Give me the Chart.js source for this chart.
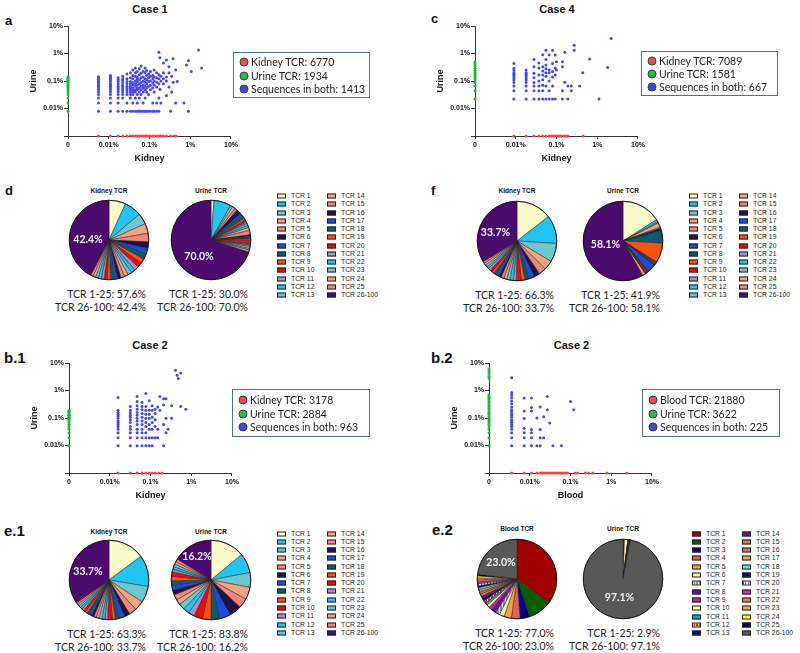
<!DOCTYPE html>
<html>
<head>
<meta charset="utf-8">
<script src="https://cdn.jsdelivr.net/npm/chart.js@4.4.1/dist/chart.umd.min.js"></script>
<style>
  body { margin: 0; background: #fff; }
  #fig { position: relative; width: 800px; height: 653px; overflow: hidden; font-family: 'Liberation Sans', Arial, sans-serif; color: #111; }
  #fig canvas { position: absolute; }
  .t { position: absolute; white-space: nowrap; line-height: 1; }
  .lbox { position: absolute; border: 1.5px solid #50709e; box-sizing: border-box; }
  .dot { position: absolute; width: 9px; height: 9px; border-radius: 50%; box-sizing: border-box; border: 1px solid #3a3a55; transform: translate(-50%, -50%); }
  .sw { position: absolute; width: 9px; height: 5px; box-sizing: border-box; border: 1px solid #222; transform: translateY(-50%); }
</style>
</head>
<body>
<div id="fig"></div>
<script>
const BASE = "'Liberation Sans', Arial, sans-serif";
const ZERO = 0.001;                 // position used for the "0" on the log axes
const decadeTicks = [0.01, 0.1, 1, 10];

// ---- scatter data: [kidney/blood %, [urine % ...]] columns, plus single-compartment clones
const case1Counts = { kidney: 6770, urine: 1934, both: 1413 };
const case1Both = [
  [0.0056, [0.008, 0.016, 0.024, 0.032, 0.04, 0.048, 0.056, 0.064, 0.072, 0.08, 0.088, 0.096, 0.112, 0.128, 0.144]],
  [0.011, [0.008, 0.016, 0.024, 0.032, 0.04, 0.048, 0.056, 0.064, 0.072, 0.08, 0.096, 0.112, 0.128, 0.144, 0.16]],
  [0.017, [0.008, 0.016, 0.024, 0.032, 0.04, 0.048, 0.056, 0.064, 0.08, 0.096, 0.112, 0.13]],
  [0.022, [0.008, 0.024, 0.032, 0.04, 0.048, 0.056, 0.064, 0.072, 0.088, 0.104, 0.12, 0.15]],
  [0.028, [0.008, 0.016, 0.032, 0.04, 0.048, 0.056, 0.064, 0.08, 0.096, 0.12, 0.18]],
  [0.034, [0.008, 0.024, 0.032, 0.04, 0.048, 0.056, 0.064, 0.08, 0.096, 0.13, 0.2]],
  [0.039, [0.008, 0.016, 0.032, 0.04, 0.048, 0.056, 0.072, 0.088, 0.12, 0.16, 0.25]],
  [0.045, [0.008, 0.024, 0.04, 0.048, 0.064, 0.08, 0.1, 0.15, 0.2, 0.3]],
  [0.05, [0.008, 0.016, 0.032, 0.048, 0.056, 0.072, 0.096, 0.12, 0.14, 0.22]],
  [0.056, [0.008, 0.024, 0.04, 0.056, 0.08, 0.11, 0.17, 0.28]],
  [0.062, [0.008, 0.032, 0.048, 0.064, 0.088, 0.13, 0.19, 0.35]],
  [0.07, [0.008, 0.016, 0.04, 0.056, 0.072, 0.1, 0.14, 0.22]],
  [0.078, [0.008, 0.024, 0.048, 0.064, 0.09, 0.12, 0.2, 0.3]],
  [0.085, [0.008, 0.04, 0.056, 0.08, 0.11, 0.16, 0.24]],
  [0.095, [0.008, 0.032, 0.064, 0.096, 0.13, 0.18]],
  [0.105, [0.008, 0.048, 0.07, 0.1, 0.15, 0.22]],
  [0.12, [0.008, 0.016, 0.056, 0.085, 0.12, 0.16]],
  [0.13, [0.008, 0.04, 0.07, 0.1, 0.14, 0.25]],
  [0.15, [0.008, 0.016, 0.06, 0.09, 0.13, 0.2]],
  [0.17, [0.008, 0.024, 0.08, 0.12, 0.17, 1.1]],
  [0.18, [0.05, 0.7]],
  [0.19, [0.016, 0.1, 0.15]],
  [0.22, [0.08, 0.12, 0.2, 0.45]],
  [0.26, [0.03, 0.1, 0.14, 0.58]],
  [0.3, [0.06, 0.2, 0.33]],
  [0.33, [0.008]],
  [0.35, [0.04, 0.15]],
  [0.38, [0.09, 0.64]],
  [0.44, [0.016, 0.25]],
  [0.48, [0.095]],
  [0.7, [0.016]],
  [0.81, [0.38]],
  [0.9, [0.008, 0.55]],
  [1.06, [0.22]],
  [1.6, [1.35]],
  [1.9, [0.3]]
];
const case1KidneyOnly = [0.0056, 0.011, 0.017, 0.022, 0.028, 0.034, 0.039, 0.045, 0.05, 0.056, 0.062, 0.07, 0.078, 0.085, 0.095, 0.105, 0.12, 0.13, 0.15, 0.17, 0.19, 0.22, 0.26, 0.33, 0.4, 0.45];
const case1UrineOnly = [0.008, 0.016, 0.024, 0.032, 0.04, 0.048, 0.056, 0.064, 0.072, 0.08, 0.088, 0.096, 0.104, 0.112, 0.12, 0.128, 0.144];

const case4Counts = { kidney: 7089, urine: 1581, both: 667 };
const case4Both = [
  [0.009, [0.022, 0.044, 0.066, 0.088, 0.11, 0.132, 0.154, 0.176, 0.2, 0.24, 0.29, 0.43]],
  [0.018, [0.022, 0.044, 0.066, 0.088, 0.11, 0.132, 0.154, 0.176, 0.2, 0.25]],
  [0.028, [0.022, 0.044, 0.066, 0.088, 0.13, 0.19, 0.33, 0.6]],
  [0.037, [0.022, 0.044, 0.066, 0.1, 0.165, 0.3, 0.45]],
  [0.046, [0.022, 0.044, 0.07, 0.11, 0.165, 0.23, 0.33, 0.9]],
  [0.055, [0.022, 0.066, 0.15, 0.2, 0.28, 0.38, 0.6, 1.3]],
  [0.066, [0.022, 0.044, 0.1, 0.2, 0.25, 0.88]],
  [0.08, [0.022, 0.066, 0.14, 0.22, 0.43, 1.3]],
  [0.093, [0.022, 0.165, 0.3, 0.88]],
  [0.1, [0.25, 0.5]],
  [0.14, [0.022, 0.044, 0.33, 0.5]],
  [0.16, [0.09, 1.1]],
  [0.19, [0.022, 0.066]],
  [0.23, [0.044, 0.066]],
  [0.27, [1.3, 2.0]],
  [0.37, [0.066]],
  [0.44, [0.2]],
  [0.65, [0.63]],
  [1.1, [0.022]],
  [1.8, [0.31]],
  [2.2, [3.5]]
];
const case4KidneyOnly = [0.009, 0.018, 0.028, 0.037, 0.046, 0.055, 0.066, 0.075, 0.08, 0.09, 0.1, 0.11, 0.12, 0.13, 0.15, 0.17, 0.19, 0.45];
const case4UrineOnly = [0.022, 0.044, 0.066, 0.088, 0.11, 0.132, 0.154, 0.176, 0.2, 0.24, 0.29, 0.35, 0.42, 0.5];

const case2Counts = { kidney: 3178, urine: 2884, both: 963 };
const case2Both = [
  [0.016, [0.0097, 0.019, 0.029, 0.039, 0.049, 0.058, 0.068, 0.078, 0.097, 0.117, 0.136, 0.16, 0.19, 0.56]],
  [0.032, [0.0097, 0.019, 0.029, 0.039, 0.049, 0.068, 0.087, 0.107, 0.126, 0.155, 0.19, 0.26]],
  [0.047, [0.0097, 0.019, 0.029, 0.039, 0.058, 0.078, 0.097, 0.126, 0.16, 0.21, 0.28, 0.4, 0.6]],
  [0.062, [0.0097, 0.019, 0.029, 0.039, 0.058, 0.078, 0.107, 0.145, 0.2, 0.26, 0.37]],
  [0.077, [0.0097, 0.019, 0.029, 0.049, 0.068, 0.097, 0.136, 0.19, 0.26, 0.78]],
  [0.093, [0.0097, 0.019, 0.039, 0.058, 0.097, 0.136, 0.19, 0.42]],
  [0.11, [0.0097, 0.019, 0.039, 0.068, 0.107, 0.19, 0.28]],
  [0.13, [0.019, 0.049, 0.087, 0.145, 0.21]],
  [0.15, [0.019, 0.039, 0.25]],
  [0.17, [0.19, 0.6]],
  [0.21, [0.0097, 0.058, 0.3, 0.5]],
  [0.24, [0.029, 0.097, 0.5]],
  [0.27, [0.039]],
  [0.33, [0.097, 0.28]],
  [0.41, [5.4]],
  [0.45, [3.6]],
  [0.48, [2.75]],
  [0.55, [0.26, 4.3]],
  [0.74, [0.21]]
];
const case2KidneyOnly = [0.016, 0.032, 0.047, 0.062, 0.077, 0.093, 0.11, 0.13, 0.16, 0.19];
const case2UrineOnly = [0.0097, 0.019, 0.029, 0.039, 0.049, 0.058, 0.068, 0.078, 0.087, 0.097, 0.107, 0.117, 0.126, 0.136, 0.155, 0.175, 0.19];

const case2BloodCounts = { blood: 21880, urine: 3622, both: 225 };
const case2BloodBoth = [
  [0.0036, [0.0097, 0.019, 0.029, 0.039, 0.049, 0.058, 0.068, 0.078, 0.087, 0.107, 0.126, 0.145, 0.175, 0.2, 0.25, 0.33, 0.42, 0.56, 0.7, 0.85, 2.9]],
  [0.0073, [0.0097, 0.019, 0.029, 0.042, 0.095, 0.18, 0.53]],
  [0.011, [0.0097, 0.019, 0.029, 0.038, 0.18, 0.24, 0.53]],
  [0.015, [0.0097, 0.1]],
  [0.018, [0.0097, 0.019, 0.038, 0.25]],
  [0.022, [0.019, 0.11]],
  [0.027, [0.2, 0.6]],
  [0.031, [0.066]],
  [0.037, [0.0097]],
  [0.06, [0.0097]],
  [0.1, [0.4]],
  [0.12, [0.2]]
];
const case2BloodOnly = [0.0036, 0.0073, 0.011, 0.015, 0.018, 0.02, 0.022, 0.025, 0.027, 0.03, 0.033, 0.037, 0.04, 0.044, 0.05, 0.055, 0.06, 0.066, 0.075, 0.085, 0.13, 0.15, 0.23, 0.28, 0.35, 0.78, 2.4];
const case2BloodUrineOnly = [0.0097, 0.019, 0.029, 0.039, 0.049, 0.058, 0.068, 0.078, 0.087, 0.097, 0.11, 0.13, 0.15, 0.17, 0.2, 0.23, 0.27, 0.3, 0.35, 0.4, 0.45, 0.5, 0.55, 0.6, 0.7, 2.8, 3.3, 4.2, 5.2, 6.0];

// ---- pie data: share (%) of TCR 1 ... TCR 25 and TCR 26-100
const tcrLabels = ['TCR 1', 'TCR 2', 'TCR 3', 'TCR 4', 'TCR 5', 'TCR 6', 'TCR 7', 'TCR 8', 'TCR 9', 'TCR 10', 'TCR 11', 'TCR 12', 'TCR 13',
  'TCR 14', 'TCR 15', 'TCR 16', 'TCR 17', 'TCR 18', 'TCR 19', 'TCR 20', 'TCR 21', 'TCR 22', 'TCR 23', 'TCR 24', 'TCR 25', 'TCR 26-100'];
const case1KidneyPie = [6.8, 7.0, 4.5, 4.0, 3.5, 2.6, 2.4, 2.2, 2.0, 1.9, 1.8, 1.7, 1.6, 1.6, 1.5, 1.5, 1.4, 1.4, 1.3, 1.3, 1.2, 1.2, 1.1, 1.1, 1.0, 42.4];
const case1UrinePie = [1.2, 7.0, 1.0, 1.2, 1.0, 2.0, 0.8, 1.6, 0.8, 0.9, 0.6, 1.0, 0.8, 1.2, 1.8, 0.6, 0.5, 0.5, 0.6, 1.6, 0.4, 0.6, 0.8, 0.6, 0.9, 70.0];
const case4KidneyPie = [14.5, 11.5, 7.6, 3.8, 3.0, 2.4, 2.4, 1.6, 1.5, 2.0, 1.2, 1.4, 1.3, 1.2, 1.2, 1.1, 1.1, 1.0, 1.0, 1.0, 1.0, 0.9, 0.9, 0.9, 0.8, 33.7];
const case4UrinePie = [16.0, 1.0, 0.5, 1.8, 0.5, 0.8, 0.3, 5.0, 8.0, 0.4, 0.2, 0.2, 0.2, 0.2, 0.2, 0.2, 3.4, 0.2, 0.2, 0.9, 0.1, 0.1, 0.1, 1.2, 0.2, 58.1];
const case2KidneyPie = [14.4, 12.4, 6.5, 3.8, 3.0, 2.2, 2.2, 1.4, 1.3, 1.8, 1.1, 1.2, 1.2, 1.1, 1.0, 1.0, 1.0, 0.9, 0.9, 0.9, 0.8, 0.8, 0.8, 0.8, 0.8, 33.7];
const case2UrinePie = [14.0, 8.0, 6.0, 5.0, 4.0, 5.0, 4.5, 3.5, 3.5, 3.5, 2.5, 2.5, 2.5, 2.2, 2.2, 2.0, 2.0, 1.8, 1.8, 1.8, 1.1, 1.1, 1.1, 1.1, 1.1, 16.2];
const case2BloodPie = [35.3, 9.5, 4.0, 3.5, 3.0, 2.0, 1.8, 1.8, 1.5, 1.2, 1.1, 1.1, 1.0, 1.0, 1.0, 0.9, 0.9, 0.9, 0.8, 0.8, 0.8, 0.8, 0.8, 0.8, 0.7, 23.0];
const case2BloodUrinePie = [0.2, 0.1, 0.1, 0.1, 0.1, 1.4, 0.05, 0.05, 0.4, 0.1, 0.02, 0.02, 0.02, 0.02, 0.02, 0.02, 0.02, 0.02, 0.02, 0.02, 0.02, 0.02, 0.02, 0.02, 0.02, 97.1];

const kidneyPalette = ['#f8fac8', '#22c4f2', '#6cc8d0', '#f5a482', '#f4867e', '#1e1246', '#1a4ce0', '#0b5c6a', '#ff5010', '#f00a0a', '#a88ed8', '#22c4f2', '#6cc8d0',
  '#f5a482', '#f4867e', '#1e1246', '#1a4ce0', '#0b5c6a', '#ff5010', '#f00a0a', '#a88ed8', '#22c4f2', '#6cc8d0', '#f5a482', '#f4867e', '#4b0a6e'];
const bloodPalette = ['#a00000', '#006000', '#000080', '#e8605a', '#f5a040', '#f6f2a6', '#8c8ca8', '#6a10a8', '#c8209e', '#ffffa8', '#12a4b4', '#e02020', '#0a0a7a',
  '#7010b0', '#c48848', '#e86660', '#f5a436', '#40e8e8', '#10107a', '#ffffff', '#d030a8', '#f07070', '#f5a440', '#ffff10', '#000060', '#585858'];
const bloodStripes = { 6: '#d8d8e8', 11: '#f0e040', 19: '#8030a0' };

const fig = document.getElementById('fig');
Chart.defaults.font.family = BASE;

function text(str, x, y, css, align) {
  const d = document.createElement('div');
  d.className = 't';
  d.textContent = str;
  const tx = align === 'right' ? '-100%' : align === 'center' ? '-50%' : '0';
  d.style.cssText = `left:${x}px;top:${y}px;transform:translate(${tx},-50%);` + (css || '');
  fig.appendChild(d);
}

function canvasAt(x, y, w, h) {
  const c = document.createElement('canvas');
  c.width = w; c.height = h;
  c.style.left = x + 'px'; c.style.top = y + 'px';
  fig.appendChild(c);
  return c;
}

function scatterPanel(x0, y0, cols, redX, greenY, xTitle) {
  const both = [];
  cols.forEach(([x, ys]) => ys.forEach(y => both.push({ x, y })));
  const tickFont = { weight: 'bold', size: 7 };
  const titleFont = { weight: 'bold', size: 9 };
  const axis = (label) => ({
    type: 'logarithmic', min: ZERO, max: 10,
    afterBuildTicks: s => { s.ticks = [ZERO, ...decadeTicks].map(v => ({ value: v })); },
    ticks: { autoSkip: false, maxRotation: 0, color: '#111', font: tickFont, callback: v => v === ZERO ? label : v + '%' },
    grid: { drawOnChartArea: false, color: '#333', tickLength: 4 },
    border: { color: '#333', width: 1 }
  });
  const x = axis('0'), y = axis('');
  x.afterFit = s => { s.height = 28; };
  x.ticks.padding = 2;
  x.grid.tickLength = 3;
  x.title = { display: true, text: xTitle, color: '#111', font: titleFont, padding: 0 };
  y.afterFit = s => { s.width = 68; };
  y.ticks.padding = 1;
  y.title = { display: true, text: 'Urine', color: '#111', font: titleFont, padding: { top: 28, bottom: 0 } };

  new Chart(canvasAt(x0, y0, 240, 144), {
    type: 'scatter',
    data: {
      datasets: [
        { data: redX.map(v => ({ x: v, y: ZERO })), backgroundColor: '#f24444' },
        { data: greenY.map(v => ({ x: ZERO, y: v })), backgroundColor: '#1db53e' },
        { data: both, backgroundColor: '#4646f2' }
      ]
    },
    options: {
      responsive: false, animation: false, events: [],
      layout: { padding: { top: 6, right: 8, bottom: 0, left: 0 } },
      elements: { point: { radius: 1.5, borderWidth: 0 } },
      datasets: { scatter: { clip: false } },
      plugins: { legend: { display: false }, tooltip: { enabled: false } },
      scales: { x, y }
    }
  });
}

function scatterLegend(x, y, w, h, entries) {
  const box = document.createElement('div');
  box.className = 'lbox';
  box.style.cssText = `left:${x}px;top:${y}px;width:${w}px;height:${h}px`;
  fig.appendChild(box);
  const cy = y + h / 2 + 0.5;
  entries.forEach(([color, str], i) => {
    const ry = cy + (i - 1) * 13.2;
    const d = document.createElement('div');
    d.className = 'dot';
    d.style.cssText = `left:${x + 10.5}px;top:${ry}px;background:${color}`;
    fig.appendChild(d);
    text(str, x + 18, ry, "font-family:Lato;font-size:10.5px;color:#222");
  });
}

function stripes(bg, fg) {
  const c = document.createElement('canvas');
  c.width = 3; c.height = 3;
  const g = c.getContext('2d');
  g.fillStyle = bg; g.fillRect(0, 0, 3, 3);
  g.fillStyle = fg; g.fillRect(0, 0, 1, 3);
  return g.createPattern(c, 'repeat');
}

function piePanel(cx, cy, values, colors, dx, dy, title, titleY) {
  const rest = values[values.length - 1];
  new Chart(canvasAt(cx - 42, cy - 42, 84, 84), {
    type: 'pie',
    data: { labels: tcrLabels, datasets: [{ data: values, backgroundColor: colors, borderColor: '#222', borderWidth: 0.5 }] },
    options: {
      responsive: false, animation: false, events: [],
      layout: { padding: 2 },
      plugins: { legend: { display: false }, tooltip: { enabled: false } }
    },
    plugins: [{
      id: 'restLabel',
      afterDatasetsDraw(chart) {
        const meta = chart.getDatasetMeta(0);
        const arc = meta.data[values.length - 1];
        const ctx = chart.ctx;
        ctx.save();
        // outer rim, slightly heavier than the slice separators
        ctx.beginPath();
        ctx.arc(arc.x, arc.y, arc.outerRadius, 0, Math.PI * 2);
        ctx.strokeStyle = '#111';
        ctx.lineWidth = 0.9;
        ctx.stroke();
        ctx.font = 'bold 10.5px Lato';
        ctx.fillStyle = '#f2eef6';
        ctx.textAlign = 'center';
        ctx.textBaseline = 'middle';
        ctx.fillText(rest.toFixed(1) + '%', arc.x + dx, arc.y + dy);
        ctx.restore();
      }
    }]
  });
  const top = values.slice(0, 25).reduce((a, b) => a + b, 0);
  text(title, cx, titleY, 'font-weight:bold;font-size:6.5px', 'center');
  const sumCss = 'font-family:Lato;font-size:10.5px;color:#222';
  text('TCR 1-25: ' + top.toFixed(1) + '%', cx + 37, cy + 54, sumCss, 'right');
  text('TCR 26-100: ' + rest.toFixed(1) + '%', cx + 37, cy + 67, sumCss, 'right');
}

function pieLegend(x1, x2, y0, pitch, fills) {
  tcrLabels.forEach((lab, i) => {
    const sx = i < 13 ? x1 : x2;
    const y = y0 + (i % 13) * pitch;
    const s = document.createElement('div');
    s.className = 'sw';
    s.style.cssText = `left:${sx}px;top:${y}px;background:${fills[i]}`;
    fig.appendChild(s);
    text(lab, sx + 14, y, 'font-size:6.8px;color:#222');
  });
}

// ---- panel labels and titles
const letter = 'font-weight:bold;font-size:13px';
const letterBig = 'font-weight:bold;font-size:15px';
text('a', 5, 20, letter);
text('c', 431, 18, letter);
text('d', 5, 190, letter);
text('f', 431, 190, letter);
text('b.1', 4, 357, letterBig);
text('b.2', 431, 357, letterBig);
text('e.1', 4, 530, letterBig);
text('e.2', 432, 529, letterBig);
const caseTitle = 'font-weight:bold;font-size:11px';
text('Case 1', 150, 9, caseTitle, 'center');
text('Case 4', 557, 9, caseTitle, 'center');
text('Case 2', 150, 344.5, caseTitle, 'center');
text('Case 2', 571.5, 344.5, caseTitle, 'center');

// ---- scatter plots
scatterPanel(0, 20, case1Both, case1KidneyOnly, case1UrineOnly, 'Kidney');
scatterPanel(407, 20, case4Both, case4KidneyOnly, case4UrineOnly, 'Kidney');
scatterPanel(1, 357, case2Both, case2KidneyOnly, case2UrineOnly, 'Kidney');
scatterPanel(421, 357, case2BloodBoth, case2BloodOnly, case2BloodUrineOnly, 'Blood');

const RED = '#f24a4a', GREEN = '#22c040', BLUE = '#3c48e8';
scatterLegend(233, 52, 137, 46, [[RED, 'Kidney TCR: ' + case1Counts.kidney], [GREEN, 'Urine TCR: ' + case1Counts.urine], [BLUE, 'Sequences in both: ' + case1Counts.both]]);
scatterLegend(641, 51, 137, 45, [[RED, 'Kidney TCR: ' + case4Counts.kidney], [GREEN, 'Urine TCR: ' + case4Counts.urine], [BLUE, 'Sequences in both: ' + case4Counts.both]]);
scatterLegend(232, 389, 138, 48, [[RED, 'Kidney TCR: ' + case2Counts.kidney], [GREEN, 'Urine TCR: ' + case2Counts.urine], [BLUE, 'Sequences in both: ' + case2Counts.both]]);
scatterLegend(642, 389, 138, 48, [[RED, 'Blood TCR: ' + case2BloodCounts.blood], [GREEN, 'Urine TCR: ' + case2BloodCounts.urine], [BLUE, 'Sequences in both: ' + case2BloodCounts.both]]);

// ---- pies
const bloodFills = bloodPalette.map((c, i) => bloodStripes[i] ? stripes(c, bloodStripes[i]) : c);
const bloodCss = bloodPalette.map((c, i) => bloodStripes[i]
  ? `repeating-linear-gradient(90deg, ${bloodStripes[i]} 0 1px, ${c} 1px 2.5px)` : c);

piePanel(109, 240, case1KidneyPie, kidneyPalette, -21, 0, 'Kidney TCR', 191);
piePanel(211, 240, case1UrinePie, kidneyPalette, -12, 17, 'Urine TCR', 191);
piePanel(517, 241, case4KidneyPie, kidneyPalette, -21.5, -8, 'Kidney TCR', 191);
piePanel(623, 241, case4UrinePie, kidneyPalette, -17.5, 4, 'Urine TCR', 191);
piePanel(109, 580, case2KidneyPie, kidneyPalette, -21, -8, 'Kidney TCR', 531.5);
piePanel(211, 580, case2UrinePie, kidneyPalette, -14, -23, 'Urine TCR', 531.5);
piePanel(517, 579, case2BloodPie, bloodFills, -16, -16, 'Blood TCR', 529);
piePanel(623, 579, case2BloodUrinePie, bloodFills, -3.5, 19, 'Urine TCR', 529);

pieLegend(277, 327, 196, 8.25, kidneyPalette);
pieLegend(689, 739, 196, 8.25, kidneyPalette);
pieLegend(277, 327, 533.5, 8.28, kidneyPalette);
pieLegend(692, 742, 533.5, 8.33, bloodCss);
</script>
</body>
</html>
